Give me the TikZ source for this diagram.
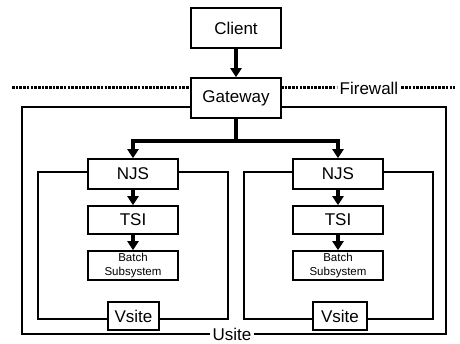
\documentclass[tikz,border=0pt]{standalone}
\usepackage{fontspec}
\setmainfont{Liberation Sans}
\usetikzlibrary{arrows.meta}

\begin{document}
\begin{tikzpicture}
	[x=1pt,y=-1pt,flow/.style={line width=3.4pt,-{Triangle[width=11pt,length=9pt]}},
	 box/.style={draw,line width=1.6pt,fill=white,inner sep=0pt,minimum width=90pt,font=\fontsize{17}{20}\selectfont},
	 frame/.style={line width=1.6pt},
	 firewall/.style={line width=3pt,dash pattern=on 2.6pt off 1.1pt},
	 tag/.style={fill=white,inner xsep=3pt,inner ysep=0pt,font=\fontsize{17}{20}\selectfont},]
	\useasboundingbox (0,0) rectangle (460,344);
	% firewall line and usite frame
	\draw[frame] (22,107) rectangle (446,334);
	\node (Usite) at (232,334)[tag]{Usite};
	\node (Firewall) at (369,88)[tag]{Firewall};
	\draw[firewall] (12,88) -- (191,88);
	\draw[firewall] (281,88) -- (Firewall.west);
	\draw[firewall] (Firewall.east) -- (455,88);
	% vsite frames
	\draw[frame] (38,172) rectangle (228,319);
	\draw[frame] (244,172) rectangle (433,319);
	\node (Client) at (236,28)[box,minimum height=40pt]{Client};
	\node (Gateway) at (236,98)[box,minimum height=40pt]{Gateway};
	\node (NJSa) at (133,174)[box,minimum height=30pt]{NJS};
	\node (TSIa) at (133,220)[box,minimum height=28pt]{TSI};
	\node (Batcha) at (133,265.5)[box,minimum height=29pt,align=center,font=\fontsize{11.5}{13.5}\selectfont]{Batch\\Subsystem};
	\node (Vsitea) at (133.5,316)[box,minimum width=51pt,minimum height=28pt]{Vsite};
	\node (NJSb) at (338,174)[box,minimum height=30pt]{NJS};
	\node (TSIb) at (338,220)[box,minimum height=28pt]{TSI};
	\node (Batchb) at (338,265.5)[box,minimum height=29pt,align=center,font=\fontsize{11.5}{13.5}\selectfont]{Batch\\Subsystem};
	\node (Vsiteb) at (340,316)[box,minimum width=54pt,minimum height=28pt]{Vsite};
	\coordinate (split) at (236,141);
	\draw[flow] (Client) -- (Gateway);
	\draw[line width=3.4pt] (Gateway) -- (split);
	\draw[flow] (split) -| (NJSa);
	\draw[flow] (split) -| (NJSb);
	\draw[flow] (NJSa) -- (TSIa);
	\draw[flow] (TSIa) -- (Batcha);
	\draw[flow] (NJSb) -- (TSIb);
	\draw[flow] (TSIb) -- (Batchb);
\end{tikzpicture}
\end{document}
